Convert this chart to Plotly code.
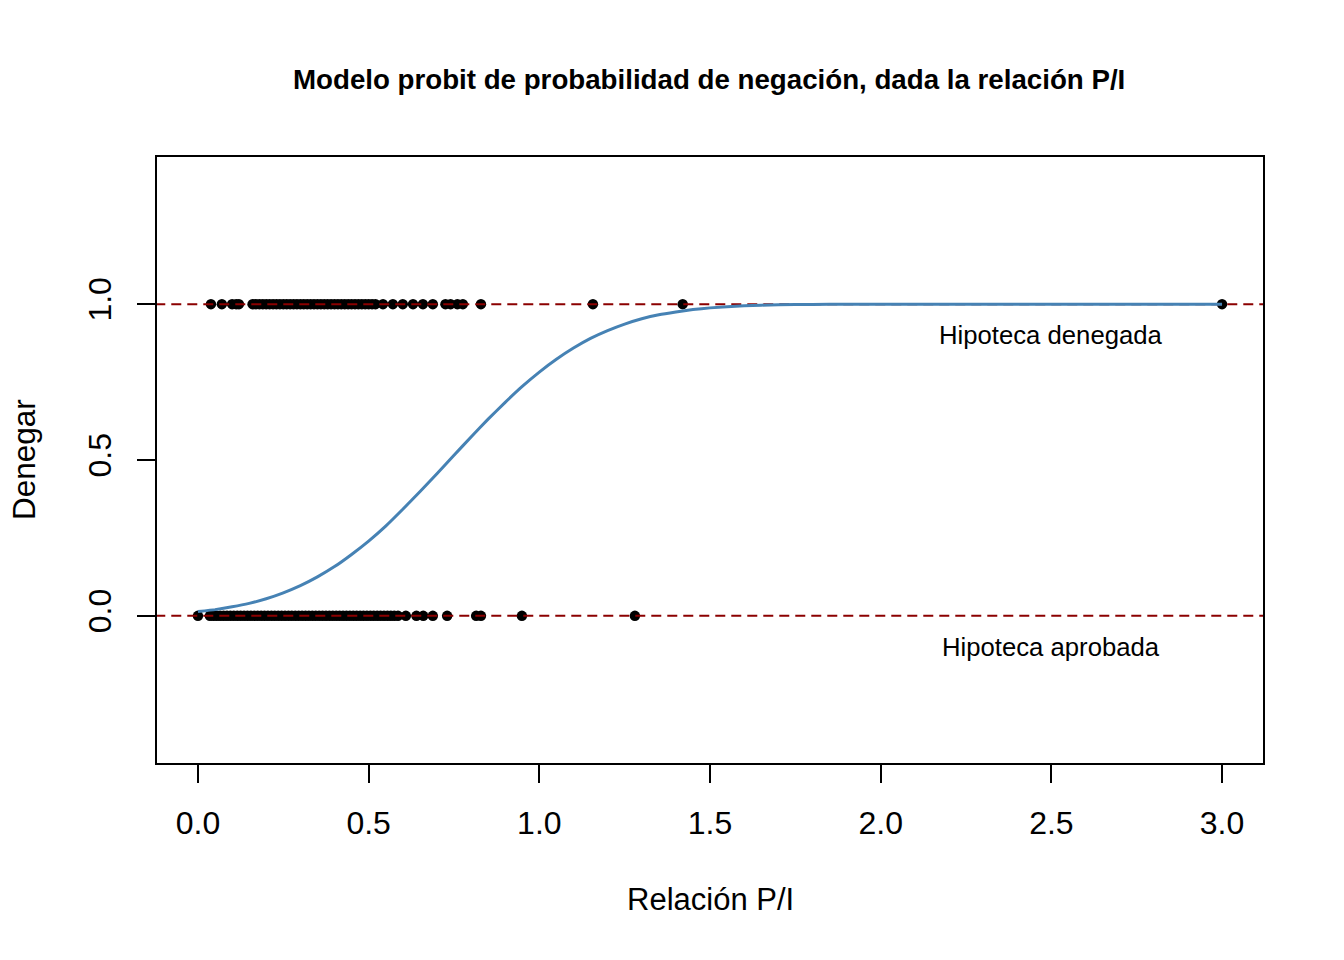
import plotly.graph_objects as go

# ---- data ----
denied_x = [0.038, 0.070, 0.100, 0.112, 0.120,
            0.16, 0.17, 0.18, 0.19, 0.20, 0.21, 0.22, 0.23, 0.24, 0.25, 0.26, 0.27,
            0.28, 0.29, 0.30, 0.31, 0.32, 0.33, 0.34, 0.35, 0.36, 0.37, 0.38, 0.39,
            0.40, 0.41, 0.42, 0.43, 0.44, 0.45, 0.46, 0.47, 0.48, 0.49, 0.50, 0.51, 0.52,
            0.542, 0.571, 0.600, 0.630, 0.659, 0.688, 0.725, 0.740, 0.760, 0.776,
            0.829, 1.157, 1.420, 3.000]
denied_y = [1] * len(denied_x)

approved_x = [0.000,
              0.035, 0.045, 0.055, 0.065, 0.075, 0.085, 0.095, 0.105, 0.115, 0.125,
              0.135, 0.145, 0.155, 0.165, 0.175, 0.185, 0.195, 0.205, 0.215, 0.225,
              0.235, 0.245, 0.255, 0.265, 0.275, 0.285, 0.295, 0.305, 0.315, 0.325,
              0.335, 0.345, 0.355, 0.365, 0.375, 0.385, 0.395, 0.405, 0.415, 0.425,
              0.435, 0.445, 0.455, 0.465, 0.475, 0.485, 0.495, 0.505, 0.515, 0.525,
              0.535, 0.545, 0.555, 0.565, 0.575, 0.586,
              0.609, 0.640, 0.660, 0.688, 0.730, 0.815, 0.829, 0.949, 1.280]
approved_y = [0] * len(approved_x)

curve_x = [0.00, 0.05, 0.10, 0.15, 0.20, 0.25, 0.30, 0.35, 0.40, 0.45, 0.50, 0.55,
           0.60, 0.65, 0.70, 0.75, 0.80, 0.85, 0.90, 0.95, 1.00, 1.05, 1.10, 1.15,
           1.20, 1.25, 1.30, 1.35, 1.40, 1.45, 1.50, 1.60, 1.70, 1.80, 1.90, 2.00,
           2.20, 2.40, 2.60, 2.80, 3.00]
curve_y = [0.014, 0.020, 0.029, 0.040, 0.055, 0.074, 0.097, 0.125, 0.158, 0.197, 0.240,
           0.288, 0.342, 0.398, 0.456, 0.515, 0.574, 0.631, 0.685, 0.736, 0.782,
           0.823, 0.859, 0.890, 0.915, 0.936, 0.953, 0.966, 0.975, 0.983, 0.988,
           0.995, 0.998, 0.999, 1.000, 1.000, 1.000, 1.000, 1.000, 1.000, 1.000]

ref_levels = [0, 1]
x_ticks = [0.0, 0.5, 1.0, 1.5, 2.0, 2.5, 3.0]
y_ticks = [0.0, 0.5, 1.0]

title_text = "Modelo probit de probabilidad de negación, dada la relación P/I"
x_title = "Relación P/I"
y_title = "Denegar"
label_denied = "Hipoteca denegada"
label_approved = "Hipoteca aprobada"

FONT = "Liberation Sans, Arial, sans-serif"

W, H = 1344, 960
L, R, T, B = 157, 81, 157, 197
pw, ph = W - L - R, H - T - B


def px_x(p):
    return (p - L) / pw


def px_y(p):
    return (H - B - p) / ph


fig = go.Figure()

fig.add_trace(go.Scatter(x=denied_x, y=denied_y, mode="markers",
                         marker=dict(color="black", size=10.5), showlegend=False))
fig.add_trace(go.Scatter(x=approved_x, y=approved_y, mode="markers",
                         marker=dict(color="black", size=10.5), showlegend=False))

for lv in ref_levels:
    fig.add_trace(go.Scatter(x=[-0.5, 3.5], y=[lv, lv], mode="lines",
                             line=dict(color="#8B0000", width=2, dash="10px,6px"),
                             showlegend=False))

fig.add_trace(go.Scatter(x=curve_x, y=curve_y, mode="lines",
                         line=dict(color="steelblue", width=3, shape="spline", smoothing=0.3),
                         showlegend=False))

fig.update_layout(
    width=W, height=H,
    margin=dict(l=L, r=R, t=T, b=B, pad=0),
    paper_bgcolor="white", plot_bgcolor="white",
    font=dict(family=FONT, color="black"),
    showlegend=False,
    hovermode=False,
)

axis_common = dict(showgrid=False, zeroline=False, showline=True, mirror=True,
                   linecolor="black", linewidth=2, ticks="outside", ticklen=18,
                   tickwidth=2, tickcolor="black",
                   tickfont=dict(family=FONT, size=32, color="black"))

fig.update_xaxes(range=[-0.12, 3.12], tickvals=x_ticks, tickformat=".1f",
                 ticklabelstandoff=13, **axis_common)
fig.update_yaxes(range=[-0.472, 1.472], tickvals=y_ticks, tickformat=".1f",
                 tickangle=-90, ticklabelstandoff=13, **axis_common)

fig.add_annotation(text="<b>" + title_text + "</b>", xref="paper", yref="paper",
                   x=px_x(709), y=px_y(80), xanchor="center", yanchor="middle",
                   showarrow=False, font=dict(family=FONT, size=27.7, color="black"))
fig.add_annotation(text=x_title, xref="paper", yref="paper",
                   x=px_x(710), y=px_y(900), xanchor="center", yanchor="middle",
                   showarrow=False, font=dict(family=FONT, size=31, color="black"))
fig.add_annotation(text=y_title, xref="paper", yref="paper",
                   x=px_x(24), y=px_y(460), xanchor="center", yanchor="middle",
                   textangle=-90, showarrow=False,
                   font=dict(family=FONT, size=31.5, color="black"))
fig.add_annotation(text=label_denied, xref="x", yref="y",
                   x=2.5, y=0.9, xanchor="center", yanchor="middle",
                   showarrow=False, font=dict(family=FONT, size=25.7, color="black"))
fig.add_annotation(text=label_approved, xref="x", yref="y",
                   x=2.5, y=-0.1, xanchor="center", yanchor="middle",
                   showarrow=False, font=dict(family=FONT, size=25.7, color="black"))

# remove the browser's default 8px body margin so the figure sits at the page origin
fig.write_html("out.html", config={"displayModeBar": False},
               post_script="document.body.style.margin='0px';document.body.style.overflow='hidden';")
